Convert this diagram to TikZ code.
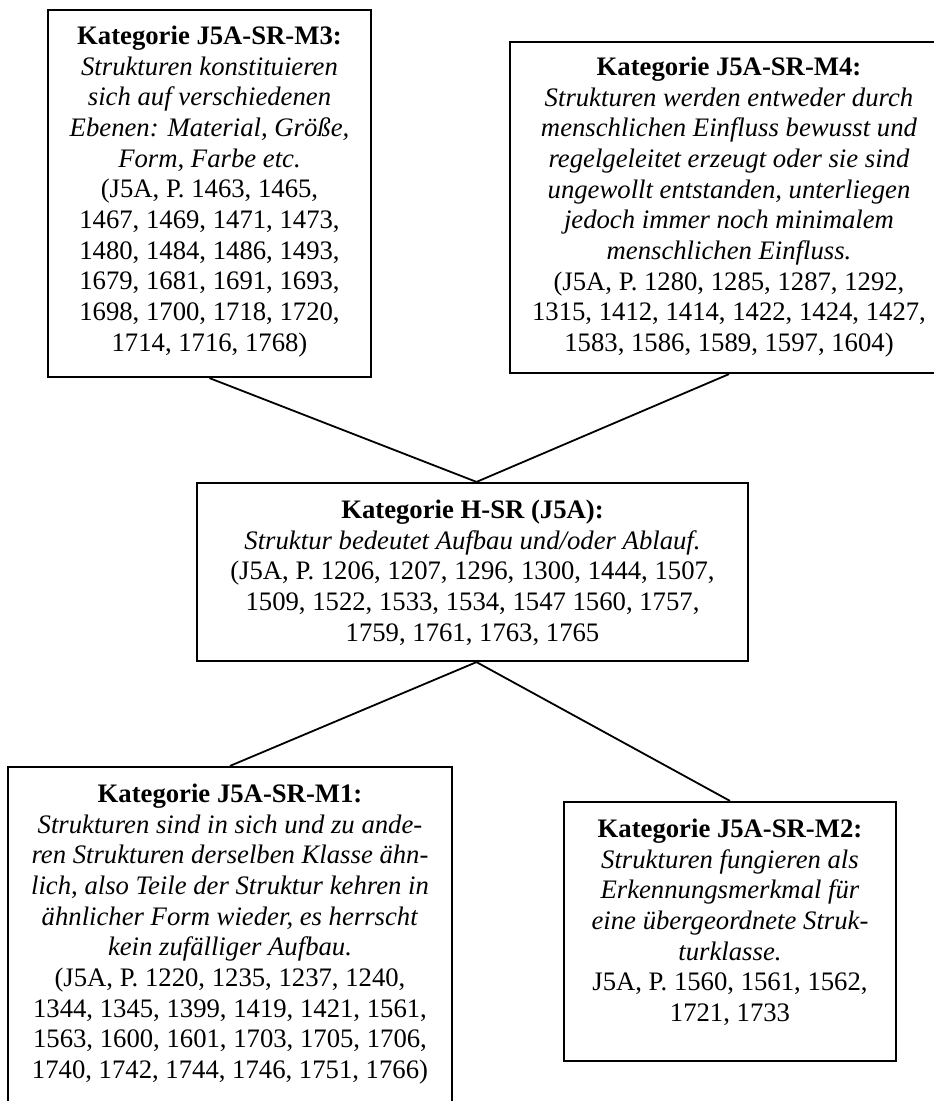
\documentclass[tikz,border=0pt]{standalone}
\usepackage{fontspec}
\setmainfont{Liberation Serif}
\begin{document}
\begin{tikzpicture}[x=1pt,y=-1pt,
  box/.style={draw=black, line width=2.2pt, inner sep=0pt},
  txt/.style={anchor=north, align=center, inner sep=0pt,
              font=\fontsize{26.7}{30.7}\selectfont},
  link/.style={draw=black, line width=1.8pt}]
\path[use as bounding box] (0,0) rectangle (934,1101);
\clip (0,0) rectangle (934,1101);
\fill[white] (0,0) rectangle (934,1101);

% category boxes
\node[box, minimum width=323pt, minimum height=367pt] (m3)  at (209.5,193.5) {};
\node[box, minimum width=438pt, minimum height=331pt] (m4)  at (729,207.5)   {};
\node[box, minimum width=551pt, minimum height=178pt] (hsr) at (472.5,572)   {};
\node[box, minimum width=444pt, minimum height=339pt] (m1)  at (230,936.5)   {};
\node[box, minimum width=332pt, minimum height=259pt] (m2)  at (730,931.5)   {};

% box texts
\node[txt] (m3t) at (209.5,25.6) {\textbf{Kategorie J5A-SR-M3:}\\
  \textit{Strukturen konstituieren}\\
  \textit{sich auf verschiedenen}\\
  \textit{Ebenen: Material, Größe,}\\
  \textit{Form, Farbe etc.}\\
  (J5A, P. 1463, 1465,\\
  1467, 1469, 1471, 1473,\\
  1480, 1484, 1486, 1493,\\
  1679, 1681, 1691, 1693,\\
  1698, 1700, 1718, 1720,\\
  1714, 1716, 1768)};

\node[txt] (m4t) at (729,56.6) {\textbf{Kategorie J5A-SR-M4:}\\
  \textit{Strukturen werden entweder durch}\\
  \textit{menschlichen Einfluss bewusst und}\\
  \textit{regelgeleitet erzeugt oder sie sind}\\
  \textit{ungewollt entstanden, unterliegen}\\
  \textit{jedoch immer noch minimalem}\\
  \textit{menschlichen Einfluss.}\\
  (J5A, P. 1280, 1285, 1287, 1292,\\
  1315, 1412, 1414, 1422, 1424, 1427,\\
  1583, 1586, 1589, 1597, 1604)};

\node[txt] (hsrt) at (472.5,499.6) {\textbf{Kategorie H-SR (J5A):}\\
  \textit{Struktur bedeutet Aufbau und/oder Ablauf.}\\
  (J5A, P. 1206, 1207, 1296, 1300, 1444, 1507,\\
  1509, 1522, 1533, 1534, 1547 1560, 1757,\\
  1759, 1761, 1763, 1765};

\node[txt] (m1t) at (230,783.6) {\textbf{Kategorie J5A-SR-M1:}\\
  \textit{Strukturen sind in sich und zu ande-}\\
  \textit{ren Strukturen derselben Klasse ähn-}\\
  \textit{lich, also Teile der Struktur kehren in}\\
  \textit{ähnlicher Form wieder, es herrscht}\\
  \textit{kein zufälliger Aufbau.}\\
  (J5A, P. 1220, 1235, 1237, 1240,\\
  1344, 1345, 1399, 1419, 1421, 1561,\\
  1563, 1600, 1601, 1703, 1705, 1706,\\
  1740, 1742, 1744, 1746, 1751, 1766)};

\node[txt] (m2t) at (730,818.6) {\textbf{Kategorie J5A-SR-M2:}\\
  \textit{Strukturen fungieren als}\\
  \textit{Erkennungsmerkmal für}\\
  \textit{eine übergeordnete Struk-}\\
  \textit{turklasse.}\\
  J5A, P. 1560, 1561, 1562,\\
  1721, 1733};

% connectors, meeting slightly right of the centre box's middle
\draw[link] (m3.south) -- ([xshift=4pt]hsr.north);
\draw[link] (m4.south) -- ([xshift=4pt]hsr.north);
\draw[link] ([xshift=4pt]hsr.south) -- (m1.north);
\draw[link] ([xshift=4pt]hsr.south) -- (m2.north);
\end{tikzpicture}
\end{document}
